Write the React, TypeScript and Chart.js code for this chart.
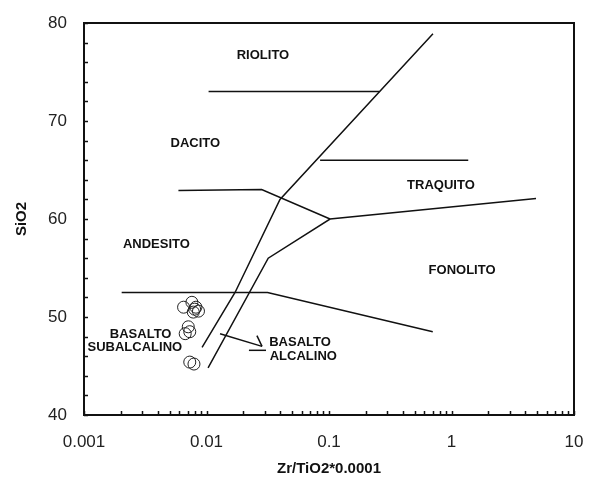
import React, { useEffect, useRef } from "react";
import { Chart, registerables } from "chart.js";

Chart.register(...registerables);

// Axis ticks
const xTickValues = [0.001, 0.01, 0.1, 1, 10];
const xTickLabels = ["0.001", "0.01", "0.1", "1", "10"];
const yTickValues = [40, 50, 60, 70, 80];
const yMinorStep = 2;

// Boundary lines of the diagram [x, y]
const lineRiolito = [[0.0104, 73], [0.258, 73]];
const lineMainDiag = [[0.0092, 46.9], [0.0171, 52.5], [0.0398, 62], [0.706, 78.9]];
const lineAlkDiag = [[0.0103, 44.8], [0.0319, 56], [0.102, 60], [4.9, 62.1]];
const lineAndesite = [[0.0059, 62.9], [0.0282, 63], [0.102, 60]];
const lineTraquito = [[0.0846, 66], [1.37, 66]];
const lineBasalt = [[0.00203, 52.5], [0.0315, 52.5], [0.703, 48.5]];
const leaderMain = [[0.0129, 48.3], [0.0284, 47.0]];
const leaderHead = [[0.0258, 48.1], [0.0284, 47.0]];
const leaderUnder = [[0.0222, 46.6], [0.0306, 46.6]];

// Samples
const sampleX = [0.0065, 0.0076, 0.0082, 0.0086, 0.0078, 0.0080, 0.0071, 0.0067, 0.0073, 0.0073, 0.0079];
const sampleY = [51.0, 51.5, 51.0, 50.6, 50.5, 50.8, 49.0, 48.3, 48.5, 45.4, 45.2];

// Field names
const fieldNames = ["RIOLITO", "DACITO", "TRAQUITO", "ANDESITO", "FONOLITO", "BASALTO", "SUBALCALINO", "BASALTO", "ALCALINO"];
const fieldX = [0.0289, 0.0081, 0.82, 0.0039, 1.22, 0.0029, 0.0026, 0.058, 0.0617];
const fieldY = [76.7, 67.7, 63.4, 57.4, 54.8, 48.2, 46.9, 47.4, 46.0];

const toPts = (arr: number[][]) => arr.map(([x, y]) => ({ x, y }));

export default function App() {
  const ref = useRef<HTMLCanvasElement | null>(null);
  useEffect(() => {
    document.body.style.margin = "0";
    const ctx = ref.current!.getContext("2d")!;
    const lineDs = (d: number[][]) => ({
      type: "line" as const,
      data: toPts(d),
      borderColor: "#111",
      borderWidth: 1.5,
      pointRadius: 0,
      fill: false,
      tension: 0,
      showLine: true,
    });
    const decorPlugin = {
      id: "decor",
      afterDatasetsDraw(chart: any) {
        const { ctx, chartArea: a, scales } = chart;
        const xs = scales.x;
        const ys = scales.y;
        ctx.save();
        ctx.strokeStyle = "#111";
        ctx.lineWidth = 1.5;
        ctx.beginPath();
        for (let v = ys.min; v <= ys.max; v += yMinorStep) {
          const py = Math.round(ys.getPixelForValue(v)) + 0.5;
          ctx.moveTo(a.left, py);
          ctx.lineTo(a.left + 4, py);
        }
        for (let d = 0; d < xTickValues.length - 1; d++) {
          for (let k = 1; k <= 10; k++) {
            const px = Math.round(xs.getPixelForValue(xTickValues[d] * k)) + 0.5;
            ctx.moveTo(px, a.bottom);
            ctx.lineTo(px, a.bottom - 4);
          }
        }
        ctx.stroke();
        ctx.lineWidth = 2;
        ctx.strokeRect(a.left, a.top, a.right - a.left, a.bottom - a.top);
        ctx.fillStyle = "#111";
        ctx.font = "bold 13px 'Liberation Sans', Arial, sans-serif";
        ctx.textAlign = "center";
        ctx.textBaseline = "middle";
        fieldNames.forEach((n, i) => {
          ctx.fillText(n, xs.getPixelForValue(fieldX[i]), ys.getPixelForValue(fieldY[i]));
        });
        ctx.restore();
      },
    };
    const hiddenGrid = {
      display: true,
      drawOnChartArea: false,
      drawTicks: true,
      tickLength: 17,
      color: "rgba(0,0,0,0)",
      tickColor: "rgba(0,0,0,0)",
    };
    const chart = new Chart(ctx, {
      type: "scatter",
      data: {
        datasets: [
          lineDs(lineRiolito),
          lineDs(lineMainDiag),
          lineDs(lineAlkDiag),
          lineDs(lineAndesite),
          lineDs(lineTraquito),
          lineDs(lineBasalt),
          lineDs(leaderMain),
          lineDs(leaderHead),
          lineDs(leaderUnder),
          {
            type: "scatter" as const,
            data: sampleX.map((x, i) => ({ x, y: sampleY[i] })),
            pointStyle: "circle",
            pointRadius: 6,
            borderColor: "#222",
            borderWidth: 1,
            backgroundColor: "rgba(255,255,255,0)",
          },
        ] as any,
      },
      plugins: [decorPlugin],
      options: {
        responsive: false,
        animation: false,
        layout: { padding: { top: 23, right: 18, left: 0, bottom: 0 } },
        plugins: { legend: { display: false }, tooltip: { enabled: false } },
        scales: {
          x: {
            type: "logarithmic",
            min: 0.001,
            max: 10,
            afterBuildTicks: (s: any) => {
              s.ticks = xTickValues.map((v) => ({ value: v }));
            },
            afterFit: (s: any) => {
              s.height = 71;
            },
            grid: hiddenGrid,
            border: { display: false },
            ticks: {
              autoSkip: false,
              maxRotation: 0,
              padding: 0,
              color: "#222",
              font: { family: "'Liberation Sans', Arial, sans-serif", size: 17 },
              callback: (v: any) => {
                const i = xTickValues.findIndex((t) => Math.abs(t - Number(v)) < Number(v) * 1e-6);
                return i >= 0 ? xTickLabels[i] : "";
              },
            },
            title: {
              display: true,
              text: "Zr/TiO2*0.0001",
              color: "#111",
              padding: { top: 0, bottom: 8 },
              font: { family: "'Liberation Sans', Arial, sans-serif", size: 15, weight: "bold" },
            },
          },
          y: {
            type: "linear",
            min: 40,
            max: 80,
            afterBuildTicks: (s: any) => {
              s.ticks = yTickValues.map((v) => ({ value: v }));
            },
            afterFit: (s: any) => {
              s.width = 84;
            },
            grid: hiddenGrid,
            border: { display: false },
            ticks: {
              padding: 0,
              color: "#222",
              font: { family: "'Liberation Sans', Arial, sans-serif", size: 17 },
            },
            title: {
              display: true,
              text: "SiO2",
              color: "#111",
              padding: { top: 13, bottom: 0 },
              font: { family: "'Liberation Sans', Arial, sans-serif", size: 15, weight: "bold" },
            },
          },
        },
      } as any,
    });
    return () => chart.destroy();
  }, []);
  return (
    <div style={{ position: "absolute", left: 0, top: 0, width: 592, height: 486, background: "#fff" }}>
      <canvas ref={ref} width={592} height={486} />
    </div>
  );
}
